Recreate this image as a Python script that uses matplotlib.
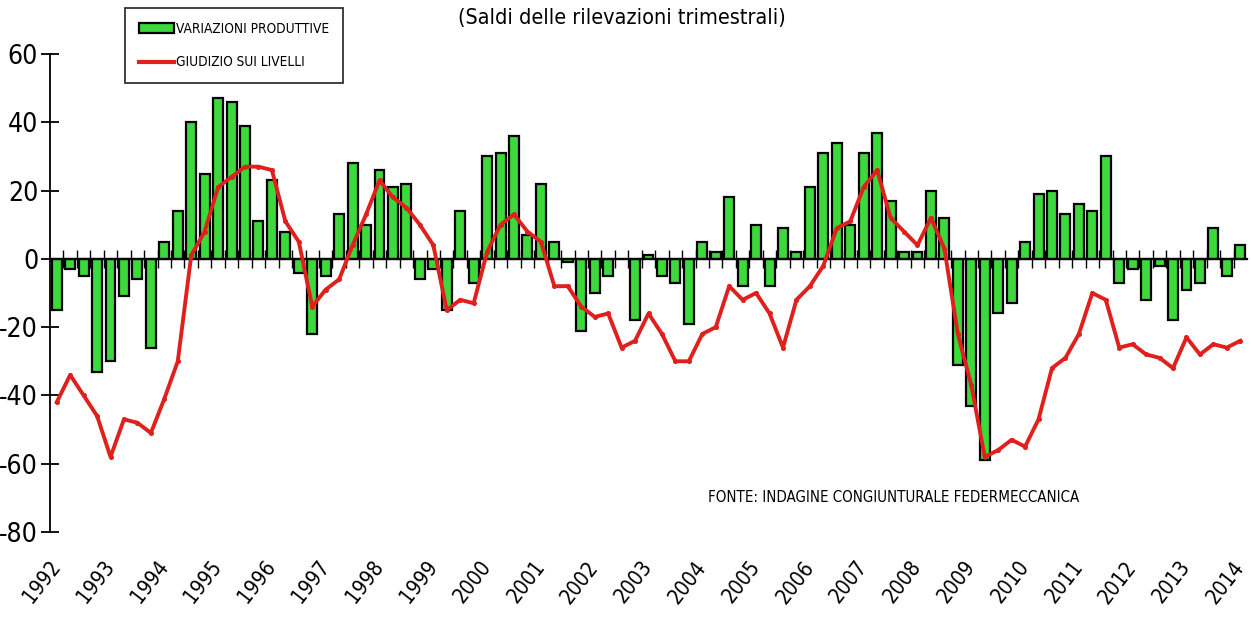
import numpy as np
import matplotlib
matplotlib.use("Agg")
import matplotlib.pyplot as plt
from matplotlib.transforms import blended_transform_factory
from matplotlib.patches import Patch
from matplotlib.lines import Line2D

plt.rcParams['axes.unicode_minus'] = False
plt.rcParams['font.family'] = ['DejaVu Sans']
plt.rcParams['font.stretch'] = 'condensed'

years = [str(y) for y in range(1992, 2015)]

variazioni_produttive = [
    -15, -3, -5, -33,
    -30, -11, -6, -26,
    5, 14, 40, 25,
    47, 46, 39, 11,
    23, 8, -4, -22,
    -5, 13, 28, 10,
    26, 21, 22, -6,
    -3, -15, 14, -7,
    30, 31, 36, 7,
    22, 5, -1, -21,
    -10, -5, 0, -18,
    1, -5, -7, -19,
    5, 2, 18, -8,
    10, -8, 9, 2,
    21, 31, 34, 10,
    31, 37, 17, 2,
    2, 20, 12, -31,
    -43, -59, -16, -13,
    5, 19, 20, 13,
    16, 14, 30, -7,
    -3, -12, -2, -18,
    -9, -7, 9, -5,
    4,
]

giudizio_livelli = [
    -42, -34, -40, -46,
    -58, -47, -48, -51,
    -41, -30, 1, 8,
    21, 24, 27, 27,
    26, 11, 5, -14,
    -9, -6, 4, 13,
    23, 18, 15, 10,
    4, -15, -12, -13,
    2, 10, 13, 8,
    5, -8, -8, -14,
    -17, -16, -26, -24,
    -16, -22, -30, -30,
    -22, -20, -8, -12,
    -10, -16, -26, -12,
    -8, -2, 9, 11,
    21, 26, 12, 8,
    4, 12, 3, -22,
    -37, -58, -56, -53,
    -55, -47, -32, -29,
    -22, -10, -12, -26,
    -25, -28, -29, -32,
    -23, -28, -25, -26,
    -24,
]

title = "(Saldi delle rilevazioni trimestrali)"
label_bars = "VARIAZIONI PRODUTTIVE"
label_line = "GIUDIZIO SUI LIVELLI"
fonte = "FONTE: INDAGINE CONGIUNTURALE FEDERMECCANICA"

GREEN = '#3CD83C'
RED = '#E0201C'

W, H = 1251, 624
fig = plt.figure(figsize=(W / 100, H / 100), dpi=100)
ax = fig.add_axes([50 / W, 1 - 532 / H, (1247 - 50) / W, (532 - 54) / H])

n = len(variazioni_produttive)
x = np.arange(n) + 0.5

ax.bar(x, variazioni_produttive, width=0.74, color=GREEN, edgecolor='black',
       linewidth=1.6, zorder=2)
ax.plot(x, giudizio_livelli, color=RED, linewidth=2.8, marker='o', markersize=2.6,
        zorder=4, solid_joinstyle='round')

ax.set_xlim(0, n)
ax.set_ylim(-80, 60)
ax.set_yticks(np.arange(-80, 61, 20))
ax.set_yticklabels([str(v) for v in range(-80, 61, 20)], fontsize=19)
ax.tick_params(axis='y', direction='inout', length=13, width=1.3, pad=2)

ax.set_xticks(np.arange(1, n))
ax.tick_params(axis='x', direction='inout', length=13, width=1.0, labelbottom=False)

ax.spines['top'].set_visible(False)
ax.spines['right'].set_visible(False)
ax.spines['bottom'].set_position(('data', 0))
ax.spines['bottom'].set_zorder(3)
ax.spines['left'].set_linewidth(1.3)
ax.spines['bottom'].set_linewidth(1.6)

trans = blended_transform_factory(ax.transData, fig.transFigure)
for k, yr in enumerate(years):
    ax.text(4 * k - 0.6, 1 - 582 / H, yr, transform=trans, rotation=52,
            ha='center', va='center', fontsize=15, clip_on=False)

fig.text(622 / W, 1 - 18 / H, title, ha='center', va='center', fontsize=15.5)
fig.text(708 / W, 1 - 497 / H, fonte, ha='left', va='center', fontsize=10.8)

handles = [Patch(facecolor=GREEN, edgecolor='black', linewidth=1.6),
           Line2D([0], [0], color=RED, linewidth=3)]
leg = fig.legend(handles, [label_bars, label_line], loc='upper left',
                 bbox_to_anchor=(125 / W, 1 - 8 / H), fontsize=9.8,
                 frameon=True, fancybox=False, edgecolor='black',
                 handlelength=2.6, handletextpad=0.15, borderpad=1.0,
                 labelspacing=1.45, borderaxespad=0)
leg.get_frame().set_linewidth(1.3)

fig.savefig('out.png', dpi=100)
